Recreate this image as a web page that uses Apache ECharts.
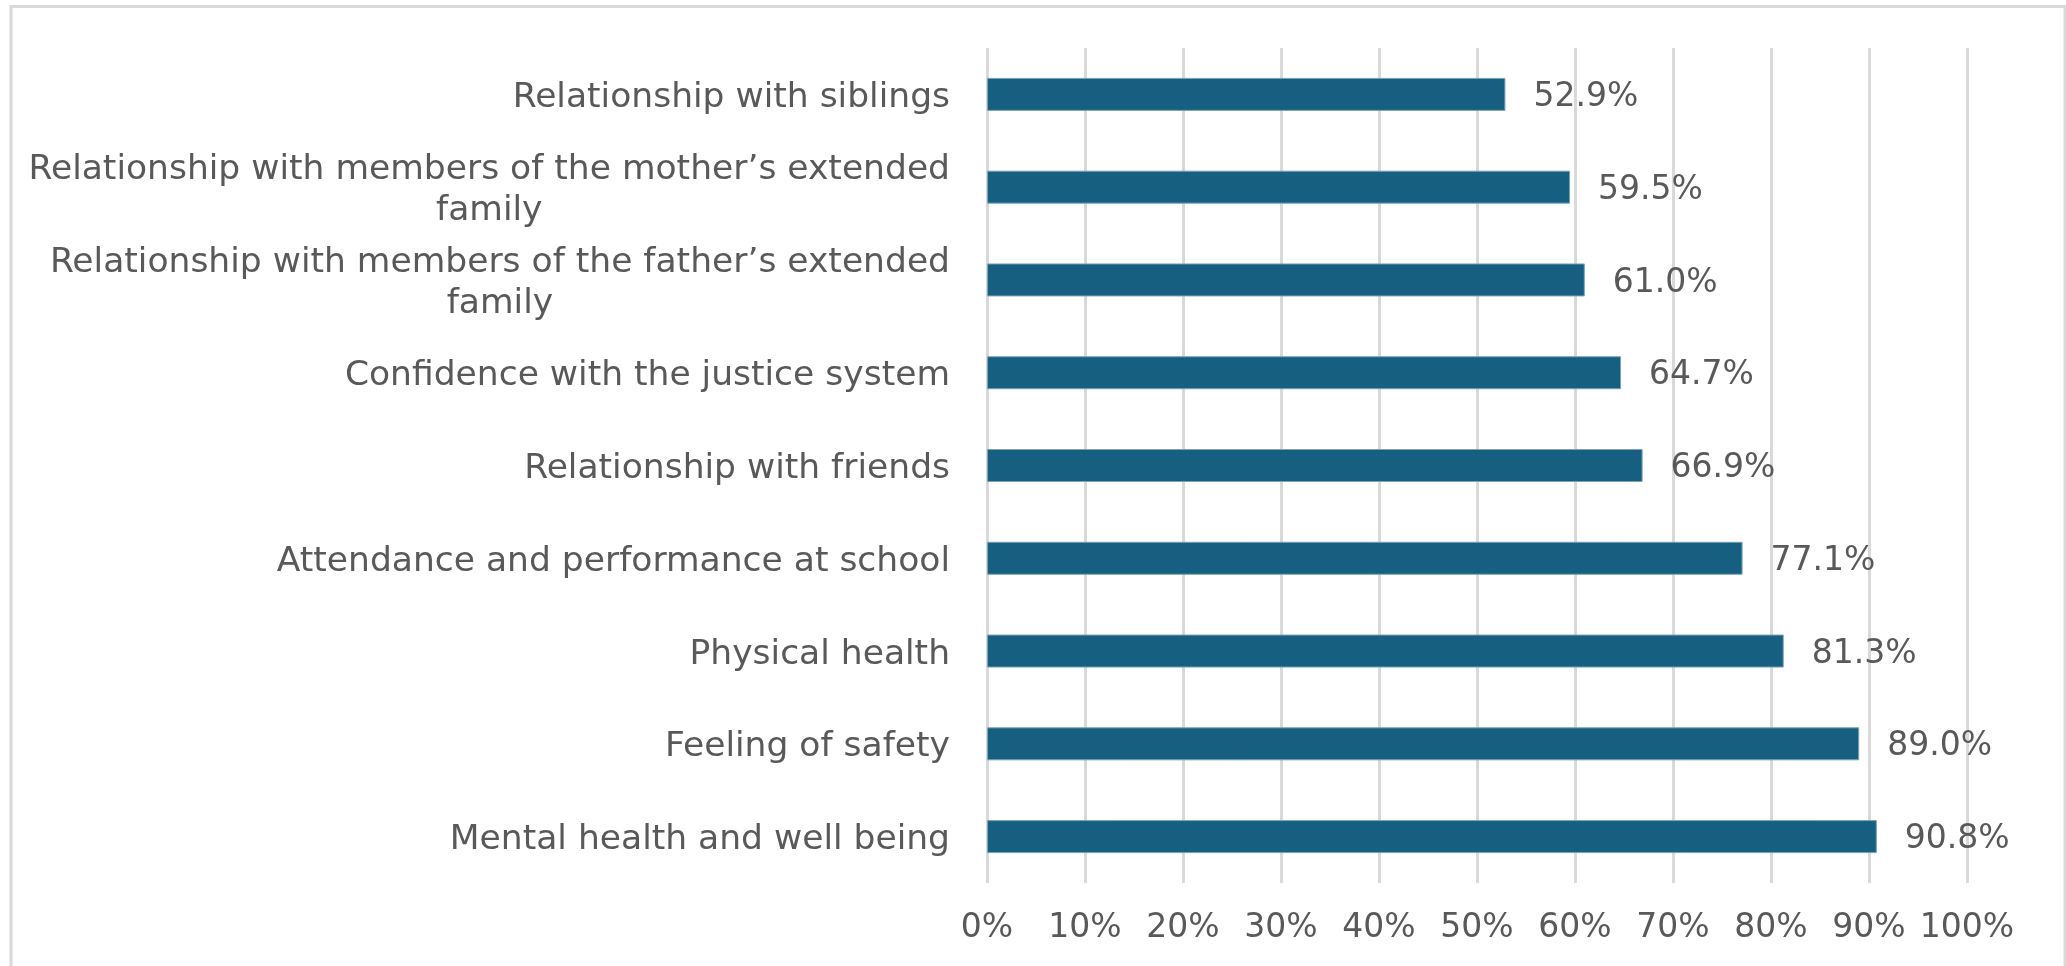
<!DOCTYPE html>
<html>
<head>
<meta charset="utf-8">
<script src="https://cdn.jsdelivr.net/npm/echarts@6/dist/echarts.min.js"></script>
<style>
  html, body { margin: 0; padding: 0; background: #ffffff; }
  #chart { width: 2066px; height: 966px; }
</style>
</head>
<body>
<div id="chart"></div>
<script>
const categories = [
  'Relationship with siblings',
  'Relationship with members of the mother’s extended\nfamily',
  'Relationship with members of the father’s extended\nfamily',
  'Confidence with the justice system',
  'Relationship with friends',
  'Attendance and performance at school',
  'Physical health',
  'Feeling of safety',
  'Mental health and well being'
];
const values = [52.9, 59.5, 61.0, 64.7, 66.9, 77.1, 81.3, 89.0, 90.8];
const tickMin = 0, tickMax = 100, tickStep = 10;

const FONT = 'DejaVu Sans';
const TXT = '#595959';
const CAT_FS = 34.5;
const NUM_FS = 33;

const chart = echarts.init(document.getElementById('chart'), null, { renderer: 'canvas' });
chart.setOption({
  backgroundColor: '#ffffff',
  animation: false,
  graphic: [{
    type: 'rect',
    silent: true,
    shape: { x: 11, y: 6.5, width: 2054, height: 1000 },
    style: { fill: 'none', stroke: '#d9d9d9', lineWidth: 3 }
  }],
  grid: { left: 987, right: 99, top: 48, bottom: 83, containLabel: false },
  xAxis: {
    type: 'value',
    min: tickMin, max: tickMax, interval: tickStep,
    axisLine: { show: false },
    axisTick: { show: false },
    splitLine: { show: true, lineStyle: { color: '#d9d9d9', width: 3 } },
    axisLabel: {
      formatter: '{value}%',
      color: TXT, fontFamily: FONT, fontSize: NUM_FS, margin: 29
    }
  },
  yAxis: {
    type: 'category',
    data: categories,
    inverse: true,
    axisLine: { show: false },
    axisTick: { show: false },
    splitLine: { show: false },
    axisLabel: {
      margin: 37,
      padding: [7, 0, 0, 0],
      color: TXT, fontFamily: FONT, fontSize: CAT_FS, lineHeight: 41,
      align: 'right',
      formatter: function (v) {
        const parts = v.split('\n');
        if (parts.length === 1) return '{a|' + parts[0] + '}';
        return '{a|' + parts[0] + '}\n{b|' + parts[1] + '}';
      },
      rich: {
        a: { color: TXT, fontFamily: FONT, fontSize: CAT_FS, lineHeight: 41 },
        b: { color: TXT, fontFamily: FONT, fontSize: CAT_FS, lineHeight: 41, align: 'center' }
      }
    }
  },
  series: [{
    type: 'bar',
    data: values,
    barWidth: 33,
    itemStyle: { color: '#175f81', borderColor: '#7aa3ba', borderWidth: 1 },
    label: {
      show: true,
      position: 'right',
      distance: 28,
      color: TXT, fontFamily: FONT, fontSize: NUM_FS,
      offset: [0, 3],
      formatter: function (p) { return p.value.toFixed(1) + '%'; }
    }
  }]
});
</script>
</body>
</html>
